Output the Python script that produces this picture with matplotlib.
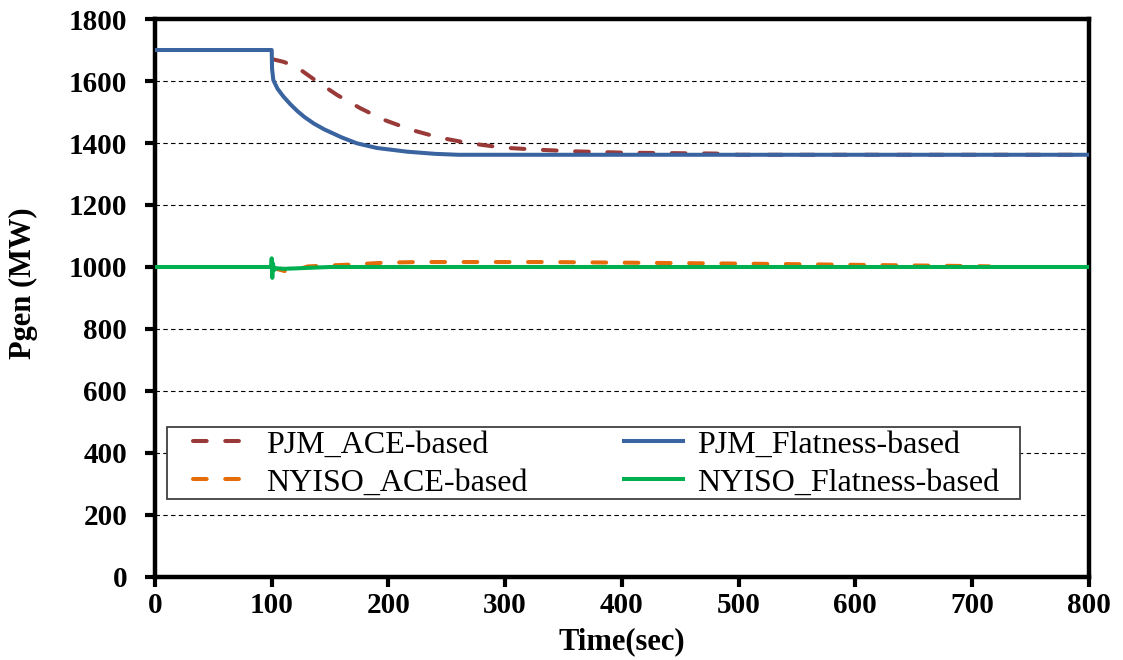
import matplotlib
matplotlib.use("Agg")
import matplotlib.pyplot as plt
from matplotlib.patches import Rectangle

# ---- data ----
t_pjm_ace = [101, 110, 121, 139, 156, 176, 196, 220, 243, 268, 298, 330, 360, 400, 450, 480, 500, 800]
pjm_ace = [1670, 1662, 1646, 1598, 1555, 1512, 1475, 1442, 1418, 1400, 1385, 1378, 1373, 1369, 1367, 1366, 1362, 1362]

t_pjm_flat = [0, 100, 100.3, 101.4, 105, 110, 116, 122, 128, 136, 145, 160, 173, 190, 216, 240, 260, 800]
pjm_flat = [1700, 1700, 1640, 1603, 1575, 1550, 1525, 1503, 1484, 1463, 1444, 1418, 1399, 1384, 1372, 1365, 1362, 1362]

t_nyiso_ace = [100, 105, 112, 120, 131, 150, 169, 197, 226, 280, 335, 400, 500, 600, 650, 700, 715]
nyiso_ace = [1000, 993, 986, 989, 1002, 1005, 1008, 1014, 1016, 1016, 1016, 1014, 1011, 1007, 1005, 1003, 1002]

t_nyiso_flat = [0, 99.5, 100, 100.5, 101, 102, 104, 110, 130, 150, 800]
nyiso_flat = [1000, 1000, 1028, 965, 1012, 990, 996, 994, 997, 1000, 1000]

labels = ["PJM_ACE-based", "PJM_Flatness-based", "NYISO_ACE-based", "NYISO_Flatness-based"]
colors = ["#993A38", "#3A64A0", "#E46C0A", "#00B050"]

plt.rcParams['font.family'] = ['Liberation Serif', 'DejaVu Serif']

fig = plt.figure(figsize=(11.23, 6.6), dpi=100)
ax = fig.add_axes([0.138, 0.1258, 0.8315, 0.8454])

lw = 2.9
dash_kw = dict(dashes=(3.4, 4.6), dash_capstyle='round')
l1, = ax.plot(t_pjm_ace, pjm_ace, color=colors[0], lw=lw, zorder=2, label=labels[0], **dash_kw)
l3, = ax.plot(t_nyiso_ace, nyiso_ace, color=colors[2], lw=lw, zorder=2, label=labels[2], **dash_kw)
l2, = ax.plot(t_pjm_flat, pjm_flat, color=colors[1], lw=lw, zorder=3, label=labels[1])
l4, = ax.plot(t_nyiso_flat, nyiso_flat, color=colors[3], lw=lw, zorder=3, label=labels[3])

ax.set_xlim(0, 800)
ax.set_ylim(0, 1800)
ax.set_xticks(range(0, 801, 100))
ax.set_yticks(range(0, 1801, 200))

# dashed horizontal gridlines
ax.yaxis.grid(True, color='black', linestyle=(0, (4, 3)), linewidth=0.8)
ax.set_axisbelow(True)

for s in ax.spines.values():
    s.set_linewidth(3.2)
ax.tick_params(axis='both', direction='out', length=7, width=3, labelsize=21)
ax.tick_params(axis='y', pad=13)
ax.tick_params(axis='x', pad=4)
ax.tick_params(right=False, top=False)
for lab in ax.get_xticklabels() + ax.get_yticklabels():
    lab.set_fontweight('bold')

ax.set_xlabel('Time(sec)', fontsize=22, fontweight='bold')
ax.set_ylabel('Pgen (MW)', fontsize=22, fontweight='bold')
ax.xaxis.set_label_coords(0.5, -0.09)
ax.yaxis.set_label_coords(-0.125, 0.527)

# legend: no own frame, box drawn separately
leg = ax.legend(handles=[l1, l3, l2, l4], ncol=2, loc='upper left',
                bbox_to_anchor=(0.0407, 0.2635), frameon=False, fontsize=23,
                borderpad=0, borderaxespad=0, handlelength=1.85, handletextpad=0.45,
                columnspacing=3.0, labelspacing=0.28)
leg.set_zorder(5)
ax.add_patch(Rectangle((0.0129, 0.1398), 0.9137, 0.129, transform=ax.transAxes,
                       facecolor='white', edgecolor='#404040', lw=1.3, zorder=4))

fig.savefig('out.png', dpi=100)
